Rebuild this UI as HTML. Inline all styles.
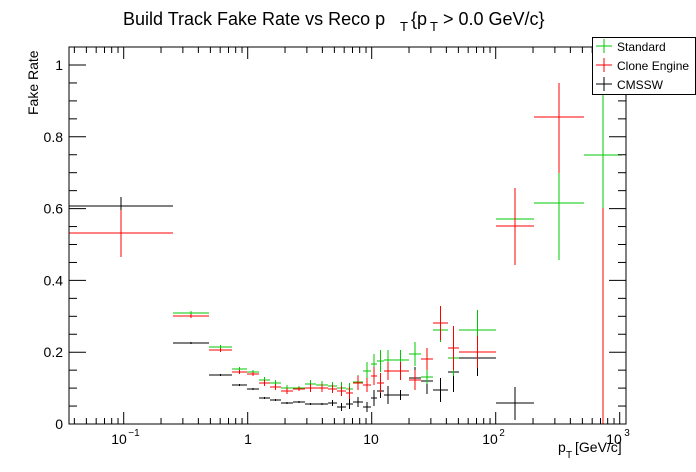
<!DOCTYPE html>
<html><head><meta charset="utf-8"><style>
body{margin:0;background:#fff;}
svg{display:block;font-family:"Liberation Sans",sans-serif;}
</style></head><body>
<svg id="s" width="696" height="472" viewBox="0 0 696 472" xmlns="http://www.w3.org/2000/svg">
<rect width="696" height="472" fill="#fff"/>
<text x="123" y="25" font-size="18">Build Track Fake Rate vs Reco p</text>
<text x="400" y="31" font-size="13">T</text>
<text x="411" y="25" font-size="18">{p</text>
<text x="430" y="31" font-size="13">T</text>
<text x="443" y="25" font-size="18">&gt; 0.0 GeV/c}</text>
<text transform="translate(38,115) rotate(-90)" font-size="14">Fake Rate</text>
<text x="558" y="452" font-size="14">p</text>
<text x="566" y="458" font-size="10">T</text>
<text x="575" y="452" font-size="14">[GeV/c]</text>
<g id="data"></g>
<rect x="69" y="47" width="557" height="377" fill="none" stroke="#000" stroke-width="1"/>
<g id="ax" stroke="#000" stroke-width="1"></g>
<g font-size="14" text-anchor="end" id="yl"></g>
<g font-size="14" text-anchor="middle">
<text x="119" y="444">10</text><text x="134" y="436" font-size="10">−1</text>
<text x="248" y="444">1</text>
<text x="371" y="444">10</text>
<text x="490" y="444">10</text><text x="502" y="436" font-size="10">2</text>
<text x="614" y="444">10</text><text x="627" y="436" font-size="10">3</text>
</g>
<rect x="592.5" y="37.5" width="103" height="57" fill="#fff" stroke="#000"/>
<g stroke-width="1">
<line x1="596" y1="46" x2="612" y2="46" stroke="#00c800"/><line x1="604" y1="39" x2="604" y2="53" stroke="#00c800"/>
<line x1="596" y1="65" x2="612" y2="65" stroke="#f00"/><line x1="604" y1="58" x2="604" y2="72" stroke="#f00"/>
<line x1="596" y1="84" x2="612" y2="84" stroke="#000"/><line x1="604" y1="77" x2="604" y2="91" stroke="#000"/>
</g>
<g font-size="12"><text x="617" y="51">Standard</text><text x="617" y="70">Clone Engine</text><text x="617" y="89">CMSSW</text></g>
</svg>
<script>
const NS="http://www.w3.org/2000/svg";
function L(g,x1,y1,x2,y2,c){const l=document.createElementNS(NS,"line");l.setAttribute("x1",x1);l.setAttribute("y1",y1);l.setAttribute("x2",x2);l.setAttribute("y2",y2);l.setAttribute("stroke",c);g.appendChild(l);}
const ax=document.getElementById("ax");
for(let i=0;i<=20;i++){const v=i*0.05;const y=424-359*v;if(y<47)break;const len=(i%4==0)?17:8;L(ax,69,y,69+len,y,"#000");L(ax,626,y,626-len,y,"#000");}
const yl=document.getElementById("yl");
[0,0.2,0.4,0.6,0.8,1].forEach(v=>{const t=document.createElementNS(NS,"text");t.setAttribute("x",63);t.setAttribute("y",424-359*v+5);t.textContent=v==0?"0":(v==1?"1":v.toFixed(1));yl.appendChild(t);});
function X(p){return 247.7+124*Math.log10(p);}
for(let d=-2;d<=3;d++){for(let k=1;k<10;k++){const p=k*Math.pow(10,d);const x=X(p);if(x<69||x>626)continue;const len=k==1?12:6;L(ax,x,424,x,424-len,"#000");L(ax,x,47,x,47+len,"#000");}}
const g=document.getElementById("data");
const G=[[173,209,313,311,315],[209,232,347,345,349],[232,247,369,367,371],[247,259,372,370,375],[259,270,380,377,383],[270,281,383,380,386],[281,293,388,385,391],[293,305,388,386,390],[305,316,384,380,388],[316,328,385,381,389],[328,337,386,382,390],[337,346,388,382,394],[346,353,389,383,396],[353,363,382,375,389],[363,371,371,362,380],[371,377,364,354,374],[377,384,361,350,372],[384,392,360,350,370],[392,409,360,350,370],[409,421,354,342,366],[421,433,377,370,384],[433,448,330,318,342],[448,459,358,340,376],[459,496,330,310,350],[496,534,219,201,236],[534,584,203,145,260],[584,622,155,70,208]];
const R=[[69,173,233,210,257],[173,209,316,314,318],[209,232,350,348,352],[232,247,372,370,374],[247,259,374,372,376],[259,270,383,380,386],[270,281,387,384,390],[281,293,391,388,394],[293,305,389,387,391],[305,316,388,384,392],[316,328,388,384,392],[328,337,389,385,393],[337,346,391,386,396],[346,353,393,387,399],[353,363,383,376,390],[363,371,385,378,392],[371,377,376,367,385],[377,384,383,373,393],[384,392,371,362,380],[392,409,371,362,380],[409,421,380,370,390],[421,433,359,348,370],[433,448,323,306,340],[448,459,348,326,370],[459,496,352,336,368],[496,534,226,188,265],[534,584,117,83,173],[584,622,424,208,424]];
const B=[[69,173,206,197,216],[173,209,343,342,344],[209,232,375,374,376],[232,247,385,384,386],[247,259,389,388,390],[259,270,398,397,399],[270,281,400,399,401],[281,293,403,402,404],[293,305,402,401,403],[305,316,404,403,405],[316,328,404,403,405],[328,337,403,400,406],[337,346,407,403,411],[346,353,404,399,409],[353,363,402,397,407],[363,371,407,402,412],[371,377,398,390,406],[377,384,391,384,398],[384,392,395,386,404],[392,409,395,390,400],[409,421,378,367,388],[421,433,381,366,394],[433,448,390,378,402],[448,459,372,352,392],[459,496,358,336,376],[496,534,403,387,420]];
function draw(D,c){D.forEach(d=>{const xc=(d[0]+d[1])/2;L(g,d[0],d[2],d[1],d[2],c);L(g,xc,d[3],xc,d[4],c);});}
draw(B,"#000");draw(G,"#00c800");draw(R,"#f00");
</script>
</body></html>
